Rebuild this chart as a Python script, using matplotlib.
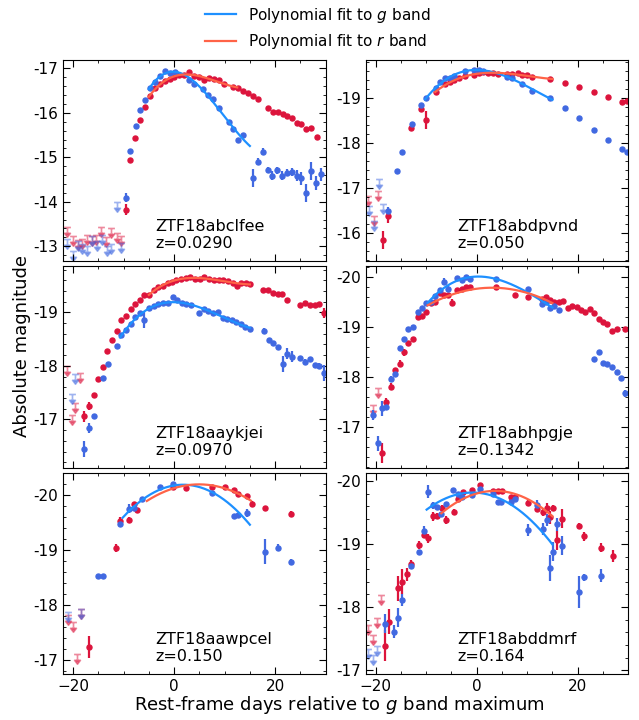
import numpy as np
import matplotlib
matplotlib.use("Agg")
import matplotlib.pyplot as plt
from matplotlib.path import Path
from matplotlib.lines import Line2D
from matplotlib.ticker import MultipleLocator, FormatStrFormatter

# ================= DATA =================
# detections: (days, abs mag, error); limits: (days, abs mag)
NAMES = ["ZTF18abclfee", "ZTF18abdpvnd", "ZTF18aaykjei",
         "ZTF18abhpgje", "ZTF18aawpcel", "ZTF18abddmrf"]
REDSHIFTS = ["0.0290", "0.050", "0.0970", "0.1342", "0.150", "0.164"]
YLIMS = [(-12.66, -17.19), (-15.38, -19.85), (-16.1, -19.86),
         (-16.19, -20.21), (-16.75, -20.4), (-16.94, -20.13)]

abclfee_g = [(-9.6, -14.09, 0.1), (-8.8, -15.15, 0.03), (-7.6, -15.71, 0.03), (-6.7, -16.06, 0.03),
             (-5.7, -16.30, 0.03), (-4.8, -16.56, 0.03), (-3.8, -16.70, 0.03), (-2.8, -16.84, 0.03),
             (-1.8, -16.94, 0.03), (-0.9, -16.89, 0.03), (0.1, -16.93, 0.03), (3.0, -16.74, 0.03),
             (4.0, -16.64, 0.03), (5.7, -16.54, 0.03), (6.8, -16.40, 0.03), (7.7, -16.32, 0.03),
             (8.8, -16.10, 0.03), (10.8, -15.80, 0.03), (11.7, -15.63, 0.03), (12.7, -15.40, 0.03),
             (13.7, -15.51, 0.03), (15.6, -14.53, 0.2), (16.6, -14.90, 0.08), (17.6, -15.13, 0.08),
             (18.5, -14.71, 0.07), (19.4, -14.59, 0.1), (20.4, -14.71, 0.08), (21.3, -14.59, 0.1),
             (22.4, -14.65, 0.08), (23.4, -14.67, 0.1), (24.3, -14.59, 0.12), (25.2, -14.53, 0.15),
             (26.1, -14.20, 0.2), (27.1, -14.70, 0.2), (28.1, -14.42, 0.15), (29.1, -14.62, 0.15)]
abclfee_r = [(-9.6, -13.82, 0.12), (-8.7, -14.93, 0.03), (-7.7, -15.43, 0.03), (-6.7, -15.83, 0.03),
             (-5.7, -16.14, 0.03), (-4.8, -16.37, 0.03), (-3.8, -16.55, 0.03), (-2.8, -16.66, 0.03),
             (-1.8, -16.72, 0.03), (-0.9, -16.77, 0.03), (0.0, -16.80, 0.03), (1.0, -16.86, 0.03),
             (1.9, -16.86, 0.03), (3.0, -16.91, 0.03), (4.0, -16.84, 0.03), (5.0, -16.81, 0.03),
             (5.9, -16.73, 0.03), (6.9, -16.78, 0.03), (7.9, -16.76, 0.03), (8.8, -16.73, 0.03),
             (9.8, -16.64, 0.03), (11.7, -16.58, 0.03), (12.7, -16.57, 0.03), (13.7, -16.50, 0.03),
             (14.7, -16.45, 0.03), (15.6, -16.37, 0.03), (16.6, -16.32, 0.03), (18.6, -16.10, 0.03),
             (19.5, -16.01, 0.03), (20.5, -16.03, 0.03), (21.5, -15.97, 0.03), (22.4, -15.92, 0.03),
             (23.4, -15.88, 0.03), (24.3, -15.78, 0.03), (25.2, -15.74, 0.03), (26.2, -15.64, 0.03),
             (27.2, -15.67, 0.03), (28.2, -15.45, 0.05)]
abclfee_g_lim = [(-21.3, -13.17), (-20.1, -12.89), (-19.1, -13.11), (-18.2, -13.04), (-17.2, -13.0),
                 (-16.3, -13.23), (-15.3, -13.11), (-14.3, -13.26), (-13.3, -13.0), (-12.4, -13.05),
                 (-11.4, -13.99), (-10.5, -13.08)]
abclfee_r_lim = [(-21.3, -13.43), (-20.1, -13.23), (-19.1, -13.15), (-18.3, -13.17), (-17.2, -13.26),
                 (-16.3, -13.24), (-15.4, -13.26), (-14.4, -13.44), (-13.4, -13.20), (-12.4, -13.40),
                 (-11.4, -13.30), (-10.5, -13.23)]

abdpvnd_g = [(-17.5, -16.49, 0.1), (-15.7, -17.39, 0.05), (-14.8, -17.80, 0.04), (-12.8, -18.42, 0.03),
             (-11.0, -18.85, 0.03), (-10.0, -19.00, 0.03), (-8.1, -19.22, 0.03), (-7.2, -19.35, 0.03),
             (-6.2, -19.44, 0.03), (-5.3, -19.46, 0.03), (-4.4, -19.49, 0.03), (-2.4, -19.61, 0.03),
             (-0.6, -19.63, 0.03), (0.4, -19.62, 0.03), (1.3, -19.61, 0.03), (6.1, -19.48, 0.03),
             (7.1, -19.46, 0.03), (9.0, -19.32, 0.03), (10.9, -19.17, 0.03), (14.6, -19.00, 0.03),
             (17.5, -18.79, 0.03), (20.3, -18.56, 0.03), (23.2, -18.29, 0.03), (26.0, -18.08, 0.03),
             (28.8, -17.88, 0.03), (29.8, -17.80, 0.03)]
abdpvnd_r = [(-18.5, -15.86, 0.2), (-17.5, -16.38, 0.15), (-12.9, -18.35, 0.03), (-11.0, -18.76, 0.03),
             (-10.0, -18.51, 0.2), (-8.1, -19.13, 0.03), (-6.2, -19.31, 0.03), (-5.3, -19.35, 0.03),
             (-4.4, -19.41, 0.03), (-3.4, -19.46, 0.03), (-2.4, -19.49, 0.03), (-0.6, -19.52, 0.03),
             (0.4, -19.55, 0.03), (1.3, -19.58, 0.03), (2.3, -19.55, 0.03), (3.2, -19.55, 0.03),
             (4.2, -19.53, 0.03), (6.1, -19.54, 0.03), (7.1, -19.54, 0.03), (8.1, -19.55, 0.03),
             (9.0, -19.52, 0.03), (9.9, -19.52, 0.03), (10.9, -19.48, 0.03), (14.6, -19.42, 0.03),
             (17.5, -19.33, 0.03), (20.3, -19.24, 0.03), (23.2, -19.13, 0.03), (26.0, -19.03, 0.03),
             (28.8, -18.91, 0.03), (29.8, -18.93, 0.03)]
abdpvnd_g_lim = [(-21.4, -16.60), (-20.4, -16.27), (-19.4, -17.21), (-18.5, -16.65)]
abdpvnd_r_lim = [(-21.6, -16.82), (-20.4, -16.38), (-19.6, -16.95)]

aaykjei_g = [(-17.8, -16.44, 0.15), (-16.8, -16.84, 0.1), (-15.9, -17.06, 0.05), (-14.1, -17.77, 0.03),
             (-13.1, -18.04, 0.03), (-11.4, -18.38, 0.03), (-10.5, -18.57, 0.03), (-9.6, -18.67, 0.03),
             (-8.6, -18.79, 0.03), (-7.7, -18.92, 0.03), (-6.8, -18.99, 0.03), (-5.9, -18.85, 0.15),
             (-5.0, -19.09, 0.03), (-4.0, -19.12, 0.03), (-3.1, -19.15, 0.03), (-2.2, -19.18, 0.03),
             (-1.3, -19.17, 0.03), (-0.3, -19.29, 0.03), (0.6, -19.24, 0.03), (1.5, -19.18, 0.03),
             (2.4, -19.16, 0.03), (3.4, -19.14, 0.03), (5.0, -18.98, 0.05), (5.9, -19.07, 0.03),
             (6.8, -19.02, 0.03), (7.7, -18.99, 0.03), (8.6, -19.00, 0.03), (9.6, -18.90, 0.03),
             (10.5, -18.87, 0.03), (11.4, -18.85, 0.03), (12.3, -18.82, 0.03), (13.3, -18.79, 0.03),
             (14.1, -18.73, 0.03), (15.0, -18.69, 0.03), (17.8, -18.66, 0.04), (18.7, -18.48, 0.03),
             (19.6, -18.42, 0.03), (20.5, -18.36, 0.03), (21.5, -18.03, 0.15), (22.4, -18.23, 0.1),
             (23.3, -18.17, 0.1), (25.0, -18.14, 0.05), (25.9, -18.08, 0.05), (26.9, -18.12, 0.05),
             (27.8, -18.01, 0.05), (28.7, -18.00, 0.05), (29.6, -17.87, 0.15)]
aaykjei_r = [(-17.8, -17.06, 0.1), (-16.8, -17.25, 0.08), (-15.9, -17.45, 0.05), (-15.0, -17.75, 0.04),
             (-14.1, -17.98, 0.03), (-13.2, -18.28, 0.03), (-12.3, -18.48, 0.03), (-11.4, -18.65, 0.03),
             (-10.5, -18.85, 0.03), (-9.6, -18.93, 0.03), (-8.6, -19.06, 0.03), (-7.7, -19.16, 0.03),
             (-6.8, -19.24, 0.03), (-5.9, -19.32, 0.03), (-5.0, -19.32, 0.03), (-4.0, -19.41, 0.03),
             (-3.1, -19.48, 0.03), (-2.2, -19.50, 0.03), (-1.3, -19.55, 0.03), (-0.5, -19.57, 0.03),
             (0.4, -19.60, 0.03), (1.3, -19.62, 0.03), (2.3, -19.64, 0.03), (3.2, -19.66, 0.03),
             (4.2, -19.63, 0.03), (5.1, -19.62, 0.03), (6.0, -19.66, 0.03), (6.9, -19.62, 0.03),
             (7.9, -19.61, 0.03), (8.8, -19.61, 0.03), (9.7, -19.61, 0.03), (10.6, -19.58, 0.03),
             (11.6, -19.54, 0.03), (12.4, -19.49, 0.03), (13.3, -19.54, 0.03), (14.2, -19.54, 0.03),
             (15.1, -19.53, 0.03), (17.6, -19.42, 0.03), (18.6, -19.41, 0.03), (19.6, -19.37, 0.03),
             (20.5, -19.35, 0.03), (21.4, -19.34, 0.03), (22.3, -19.23, 0.03), (25.0, -19.13, 0.03),
             (25.9, -19.18, 0.03), (26.9, -19.13, 0.03), (27.8, -19.13, 0.03), (28.7, -19.15, 0.03),
             (29.6, -18.99, 0.1)]
aaykjei_g_lim = [(-19.6, -17.85), (-20.3, -17.47)]
aaykjei_r_lim = [(-21.3, -18.0), (-19.6, -17.31), (-18.6, -17.87), (-20.3, -17.09)]

abhpgje_g = [(-20.6, -17.25, 0.1), (-19.6, -16.68, 0.15), (-18.8, -17.38, 0.15), (-18.0, -17.41, 0.05),
             (-17.0, -17.97, 0.04), (-16.1, -18.06, 0.04), (-15.2, -18.58, 0.03), (-14.3, -18.76, 0.03),
             (-13.5, -18.96, 0.03), (-12.6, -19.00, 0.03), (-11.7, -19.30, 0.03), (-10.8, -19.37, 0.03),
             (-10.0, -19.48, 0.03), (-9.0, -19.49, 0.03), (-8.2, -19.61, 0.03), (-7.3, -19.73, 0.03),
             (-6.4, -19.90, 0.07), (-5.6, -19.76, 0.07), (-3.8, -19.97, 0.03), (-2.9, -19.93, 0.03),
             (-2.1, -19.99, 0.03), (-1.3, -19.96, 0.03), (3.9, -19.95, 0.03), (10.1, -19.75, 0.03),
             (12.9, -19.45, 0.03), (13.7, -19.49, 0.03), (14.6, -19.37, 0.03), (15.4, -19.41, 0.03),
             (16.3, -19.33, 0.03), (23.3, -18.35, 0.05), (24.2, -18.49, 0.03), (25.0, -18.28, 0.03),
             (25.9, -18.26, 0.03), (26.8, -18.19, 0.03), (27.7, -18.10, 0.03), (28.6, -17.99, 0.03),
             (29.4, -17.68, 0.07)]
abhpgje_r = [(-18.8, -16.48, 0.2), (-18.0, -17.51, 0.07), (-17.0, -17.81, 0.07), (-16.1, -18.13, 0.04),
             (-15.2, -18.26, 0.07), (-14.3, -18.49, 0.07), (-13.5, -18.67, 0.03), (-12.6, -18.75, 0.04),
             (-11.7, -19.20, 0.03), (-10.8, -19.21, 0.03), (-10.0, -19.29, 0.03), (-9.0, -19.48, 0.03),
             (-8.2, -19.50, 0.03), (-7.3, -19.68, 0.03), (-6.4, -19.63, 0.03), (-5.6, -19.63, 0.03),
             (-4.8, -19.48, 0.07), (-3.8, -19.73, 0.03), (-2.9, -19.75, 0.03), (-2.1, -19.79, 0.03),
             (-1.3, -19.79, 0.03), (3.9, -19.79, 0.03), (7.6, -19.63, 0.03), (10.1, -19.59, 0.03),
             (12.9, -19.55, 0.03), (13.7, -19.59, 0.03), (14.6, -19.53, 0.03), (15.4, -19.49, 0.03),
             (16.3, -19.50, 0.03), (17.2, -19.51, 0.03), (18.0, -19.38, 0.03), (18.9, -19.41, 0.03),
             (19.8, -19.39, 0.03), (20.7, -19.33, 0.03), (21.5, -19.29, 0.03), (22.4, -19.35, 0.03),
             (23.3, -19.28, 0.03), (24.2, -19.15, 0.03), (25.1, -19.10, 0.03), (25.9, -19.05, 0.03),
             (26.8, -18.91, 0.03), (27.7, -18.95, 0.03), (29.4, -18.95, 0.03)]
abhpgje_g_lim = []
abhpgje_r_lim = [(-19.6, -17.78), (-20.6, -17.45)]

aawpcel_g = [(-15.0, -18.52, 0.05), (-14.1, -18.52, 0.05), (-10.7, -19.47, 0.03), (-8.9, -19.75, 0.08),
             (-8.0, -19.76, 0.05), (-6.4, -19.92, 0.03), (-2.8, -20.14, 0.03), (-0.2, -20.19, 0.03),
             (7.5, -20.04, 0.03), (11.8, -19.61, 0.03), (12.7, -19.64, 0.03), (14.5, -19.67, 0.08),
             (17.9, -18.97, 0.22), (20.6, -19.04, 0.06), (23.1, -18.78, 0.06)]
aawpcel_r = [(-16.8, -17.24, 0.2), (-11.6, -19.03, 0.07), (-10.7, -19.53, 0.06), (-9.0, -19.55, 0.05),
             (-8.0, -19.83, 0.03), (-7.3, -19.73, 0.03), (-0.3, -20.14, 0.03), (2.3, -20.13, 0.03),
             (7.5, -20.14, 0.03), (10.1, -20.14, 0.03), (11.8, -20.09, 0.03), (12.7, -20.01, 0.03),
             (14.5, -19.97, 0.03), (15.4, -19.83, 0.05), (17.9, -19.76, 0.03), (23.1, -19.65, 0.05)]
aawpcel_g_lim = [(-21.1, -17.88), (-18.5, -17.93)]
aawpcel_r_lim = [(-21.1, -17.82), (-20.1, -17.70), (-19.3, -17.12), (-18.5, -17.93)]

abddmrf_g = [(-18.2, -17.74, 0.15), (-16.4, -17.61, 0.1), (-15.6, -17.83, 0.15), (-14.7, -18.11, 0.1),
             (-13.0, -18.65, 0.03), (-11.4, -18.88, 0.03), (-10.5, -19.20, 0.08), (-9.7, -19.83, 0.1),
             (-8.7, -19.61, 0.06), (-7.9, -19.58, 0.03), (-7.1, -19.47, 0.03), (-6.1, -19.63, 0.03),
             (-4.6, -19.85, 0.03), (-3.6, -19.80, 0.03), (-2.8, -19.75, 0.03), (-1.0, -19.77, 0.03),
             (0.7, -19.87, 0.03), (3.3, -19.79, 0.03), (4.2, -19.66, 0.03), (4.9, -19.66, 0.03),
             (6.8, -19.66, 0.03), (7.6, -19.72, 0.03), (10.1, -19.22, 0.1), (11.9, -19.62, 0.07),
             (13.2, -19.24, 0.1), (14.0, -19.38, 0.1), (14.5, -18.62, 0.2), (15.2, -18.88, 0.15),
             (16.0, -19.31, 0.1), (16.9, -18.97, 0.15), (20.3, -18.24, 0.25), (21.2, -18.47, 0.05),
             (24.7, -18.50, 0.1)]
abddmrf_r = [(-18.2, -17.39, 0.25), (-17.3, -17.77, 0.2), (-15.6, -18.30, 0.2), (-14.7, -18.40, 0.2),
             (-13.8, -18.52, 0.1), (-13.0, -18.68, 0.07), (-11.4, -18.98, 0.06), (-10.5, -19.14, 0.05),
             (-9.6, -19.09, 0.07), (-8.7, -19.44, 0.07), (-7.9, -19.44, 0.05), (-6.9, -19.57, 0.05),
             (-6.1, -19.38, 0.07), (-4.4, -19.51, 0.05), (-3.6, -19.72, 0.03), (-2.7, -19.82, 0.03),
             (-1.0, -19.86, 0.03), (0.7, -19.93, 0.03), (3.3, -19.84, 0.03), (4.2, -19.84, 0.03),
             (5.0, -19.84, 0.03), (6.8, -19.75, 0.03), (7.6, -19.75, 0.03), (10.1, -19.65, 0.05),
             (11.9, -19.56, 0.05), (13.2, -19.50, 0.05), (14.0, -19.57, 0.08), (14.5, -19.42, 0.1),
             (15.2, -19.57, 0.05), (16.0, -19.06, 0.15), (16.9, -19.40, 0.15), (20.3, -19.28, 0.05),
             (21.3, -19.12, 0.07), (24.7, -18.94, 0.07), (27.1, -18.81, 0.1)]
abddmrf_g_lim = [(-21.5, -17.33), (-20.6, -17.24), (-19.8, -17.39)]
abddmrf_r_lim = [(-18.9, -18.19), (-21.5, -17.71), (-20.6, -17.56), (-19.8, -17.82)]

G_DATA = [abclfee_g, abdpvnd_g, aaykjei_g, abhpgje_g, aawpcel_g, abddmrf_g]
R_DATA = [abclfee_r, abdpvnd_r, aaykjei_r, abhpgje_r, aawpcel_r, abddmrf_r]
G_LIMS = [abclfee_g_lim, abdpvnd_g_lim, aaykjei_g_lim, abhpgje_g_lim, aawpcel_g_lim, abddmrf_g_lim]
R_LIMS = [abclfee_r_lim, abdpvnd_r_lim, aaykjei_r_lim, abhpgje_r_lim, aawpcel_r_lim, abddmrf_r_lim]

# polynomial fit windows (days) and polynomial degree
G_FIT_WIN = [(-5, 15), (-10.2, 15), (-10.7, 15), (-9.7, 15), (-10.2, 15), (-9.9, 15)]
R_FIT_WIN = [(-5, 12.5), (-8.2, 15), (-5, 15), (-9.7, 15), (-5.4, 15.2), (-7, 15)]
G_FIT_DEG = [3, 3, 3, 3, 2, 2]
R_FIT_DEG = [3, 3, 3, 2, 2, 2]
# ===============================================================

G_COL = "royalblue"
R_COL = "crimson"
G_FIT = "#1E90FF"
R_FIT = "#FF6347"

# down-arrow glyph for upper limits (cap at the value, arrow below)
LIM_MARKER = Path(
    [(-0.35, 0), (0.35, 0), (0, 0), (0, -0.75),
     (-0.3, -0.6), (0.3, -0.6), (0, -1.0), (-0.3, -0.6)],
    [Path.MOVETO, Path.LINETO, Path.MOVETO, Path.LINETO,
     Path.MOVETO, Path.LINETO, Path.LINETO, Path.CLOSEPOLY],
)


def draw_band(ax, pts, lims, color):
    if pts:
        t, m, e = np.array(pts).T
        ax.errorbar(t, m, yerr=e, fmt="o", ms=3.6, color=color, elinewidth=1.6,
                    capsize=0, zorder=2)
    if lims:
        lt, lm = np.array(lims).T
        ax.plot(lt, lm, ls="none", marker=LIM_MARKER, ms=14, color=color,
                mec=color, mew=1.2, alpha=0.5, zorder=1)


def draw_fit(ax, pts, win, deg, color):
    t, m, _ = np.array(pts).T
    sel = (t >= win[0] - 0.5) & (t <= win[1] + 0.5)
    coef = np.polyfit(t[sel], m[sel], deg)
    tt = np.linspace(win[0], win[1], 200)
    ax.plot(tt, np.polyval(coef, tt), color=color, lw=1.6, zorder=3)


fig, axes = plt.subplots(3, 2, figsize=(6.39, 7.2), dpi=100, sharex=True)
fig.subplots_adjust(left=0.0986, right=0.983, top=0.9167, bottom=0.0639,
                    wspace=0.152, hspace=0.025)

for i, ax in enumerate(axes.flat):
    draw_band(ax, R_DATA[i], R_LIMS[i], R_COL)
    draw_band(ax, G_DATA[i], G_LIMS[i], G_COL)
    draw_fit(ax, G_DATA[i], G_FIT_WIN[i], G_FIT_DEG[i], G_FIT)
    draw_fit(ax, R_DATA[i], R_FIT_WIN[i], R_FIT_DEG[i], R_FIT)

    ax.set_xlim(-22, 30)
    ax.set_ylim(*YLIMS[i])
    ax.xaxis.set_major_locator(MultipleLocator(20))
    ax.xaxis.set_minor_locator(MultipleLocator(5))
    ax.yaxis.set_major_locator(MultipleLocator(1))
    ax.yaxis.set_minor_locator(MultipleLocator(0.2))
    ax.yaxis.set_major_formatter(FormatStrFormatter("%d"))
    ax.tick_params(which="both", direction="in", top=True, right=True, labelsize=11)
    ax.tick_params(which="major", length=5)
    ax.tick_params(which="minor", length=2.5)

    ax.text(0.35, 0.05, f"{NAMES[i]}\nz={REDSHIFTS[i]}", transform=ax.transAxes,
            fontsize=11.5, ha="left", va="bottom", linespacing=1.15)

fig.text(0.035, 0.52, "Absolute magnitude", rotation=90, fontsize=13,
         ha="center", va="center")
fig.text(0.532, 0.021, "Rest-frame days relative to $g$ band maximum", fontsize=13,
         ha="center", va="center")

handles = [Line2D([], [], color=G_FIT, lw=1.6), Line2D([], [], color=R_FIT, lw=1.6)]
fig.legend(handles, ["Polynomial fit to $g$ band", "Polynomial fit to $r$ band"],
           loc="upper center", bbox_to_anchor=(0.497, 1.011), frameon=False, fontsize=11)

fig.savefig("out.png", dpi=100)
